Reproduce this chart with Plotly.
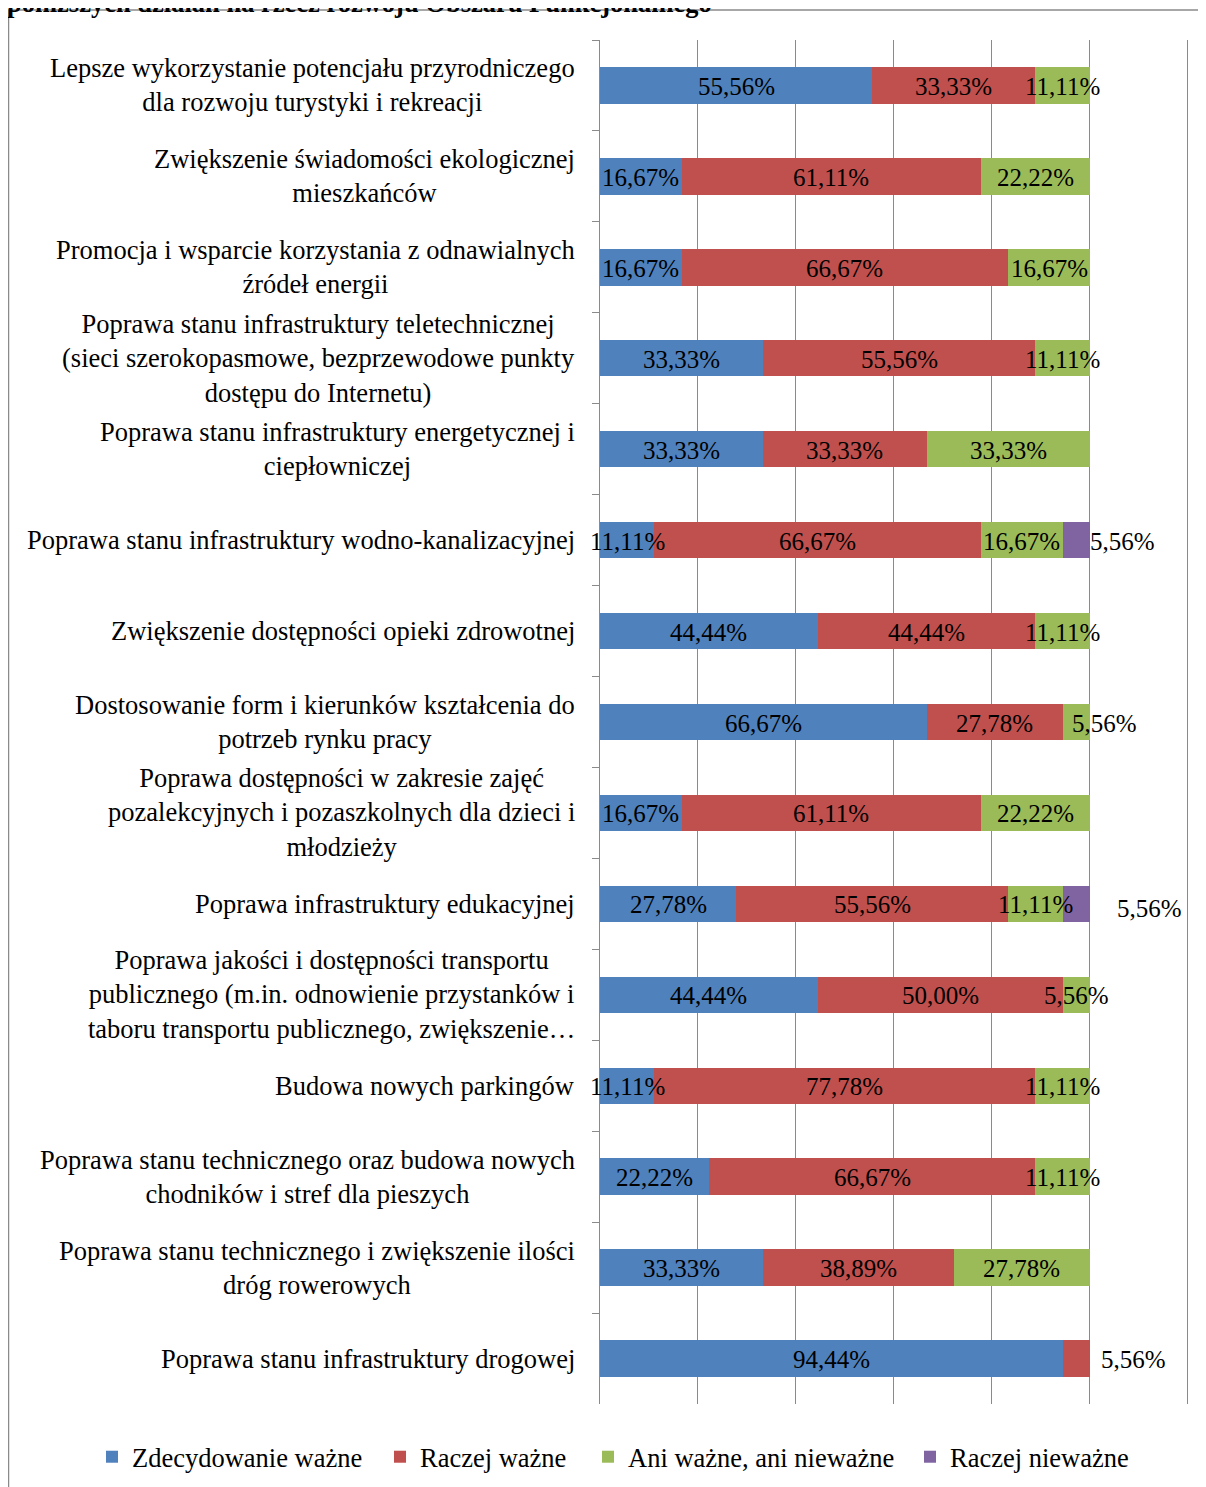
import plotly.graph_objects as go

categories = [
    "Lepsze wykorzystanie potencjału przyrodniczego<br>dla rozwoju turystyki i rekreacji",
    "Zwiększenie świadomości ekologicznej<br>mieszkańców",
    "Promocja i wsparcie korzystania z odnawialnych<br>źródeł energii",
    "Poprawa stanu infrastruktury teletechnicznej<br>(sieci szerokopasmowe, bezprzewodowe punkty<br>dostępu do Internetu)",
    "Poprawa stanu infrastruktury energetycznej i<br>ciepłowniczej",
    "Poprawa stanu infrastruktury wodno-kanalizacyjnej",
    "Zwiększenie dostępności opieki zdrowotnej",
    "Dostosowanie form i kierunków kształcenia do<br>potrzeb rynku pracy",
    "Poprawa dostępności w zakresie zajęć<br>pozalekcyjnych i pozaszkolnych dla dzieci i<br>młodzieży",
    "Poprawa infrastruktury edukacyjnej",
    "Poprawa jakości i dostępności transportu<br>publicznego (m.in. odnowienie przystanków i<br>taboru transportu publicznego, zwiększenie…",
    "Budowa nowych parkingów",
    "Poprawa stanu technicznego oraz budowa nowych<br>chodników i stref dla pieszych",
    "Poprawa stanu technicznego i zwiększenie ilości<br>dróg rowerowych",
    "Poprawa stanu infrastruktury drogowej",
]

series_names = ["Zdecydowanie ważne", "Raczej ważne", "Ani ważne, ani nieważne", "Raczej nieważne"]

zdecydowanie_wazne = [55.56, 16.67, 16.67, 33.33, 33.33, 11.11, 44.44, 66.67, 16.67, 27.78, 44.44, 11.11, 22.22, 33.33, 94.44]
raczej_wazne       = [33.33, 61.11, 66.67, 55.56, 33.33, 66.67, 44.44, 27.78, 61.11, 55.56, 50.00, 77.78, 66.67, 38.89, 5.56]
ani_wazne          = [11.11, 22.22, 16.67, 11.11, 33.33, 16.67, 11.11, 5.56, 22.22, 11.11, 5.56, 11.11, 11.11, 27.78, 0]
raczej_niewazne    = [0, 0, 0, 0, 0, 5.56, 0, 0, 0, 5.56, 0, 0, 0, 0, 0]

series_values = [zdecydowanie_wazne, raczej_wazne, ani_wazne, raczej_niewazne]
colors = ["#4F81BD", "#C0504D", "#9BBB59", "#8064A2"]

FONT = "Liberation Serif, Times New Roman, serif"
TEXT_SIZE = 26.5
LABEL_SIZE = 25

# the page body has an 8px margin, so the figure is drawn 8px in from the window corner
PAGE_OFF = 8
PAGE_W, PAGE_H = 1206, 1487
W, H = PAGE_W - PAGE_OFF, PAGE_H - PAGE_OFF
X_MAX = 1.2025          # a hair past 120% so the last grid line is drawn
PX_PER_UNIT = 490       # window pixels for 100%
# plot area in window pixels: x 600..(600+490*X_MAX), y 40..1404
ML = 600 - PAGE_OFF
MT = 40 - PAGE_OFF
PW = round(PX_PER_UNIT * X_MAX)
MR = W - ML - PW
MB = H - (1404 - PAGE_OFF)
PH = H - MT - MB

# window x of each legend entry's left edge (style)
LEGEND_LEFT_PX = [92, 380, 588, 910]


def px_to_paper_x(px):  # px in window coordinates
    return (px - PAGE_OFF - ML) / PW


def px_to_paper_y(py):
    return 1 - (py - PAGE_OFF - MT) / PH


legend_ids = ["legend"] + [f"legend{k}" for k in range(2, len(series_names) + 1)]

fig = go.Figure()
for name, vals, col, lid in zip(series_names, series_values, colors, legend_ids):
    fig.add_trace(go.Bar(
        y=categories, x=[v / 100 for v in vals], name=name, orientation="h",
        legend=lid,
        marker=dict(color=col, line=dict(width=0)),
        hoverinfo="x+y",
    ))

# label placement styles: labels drawn to the right of the bar end, with pixel shifts
outside_labels = {(5, 3): -2, (9, 3): 25, (14, 1): 9}
center_shifts = {(7, 2): 28}

annotations = []
for i, cat in enumerate(categories):
    cum = 0.0
    for s, vals in enumerate(series_values):
        v = vals[i]
        if v <= 0:
            continue
        txt = f"{v:.2f}".replace(".", ",") + "%"
        if (i, s) in outside_labels:
            annotations.append(dict(
                x=(cum + v) / 100, y=cat, xref="x", yref="y", text=txt, showarrow=False,
                xanchor="left", xshift=outside_labels[(i, s)], yshift=-5 if (i, s) == (9, 3) else -1,
                font=dict(family=FONT, size=LABEL_SIZE, color="#000000")))
        else:
            annotations.append(dict(
                x=(cum + v / 2) / 100, y=cat, xref="x", yref="y", text=txt, showarrow=False,
                xanchor="center", xshift=center_shifts.get((i, s), 0), yshift=-1,
                font=dict(family=FONT, size=LABEL_SIZE, color="#000000")))
        cum += v

# category labels, centered multi-line blocks right-aligned to the axis
for cat in categories:
    annotations.append(dict(
        x=0, y=cat, xref="paper", yref="y", text=cat, showarrow=False,
        xanchor="right", xshift=-23, align="center",
        font=dict(family=FONT, size=TEXT_SIZE, color="#000000")))

# cropped document heading at top
annotations.append(dict(
    x=px_to_paper_x(5), y=px_to_paper_y(3), xref="paper", yref="paper",
    text="<b>poniższych działań na rzecz rozwoju Obszaru Funkcjonalnego</b>",
    showarrow=False, xanchor="left", yanchor="middle",
    font=dict(family=FONT, size=TEXT_SIZE, color="#000000")))

shapes = [
    dict(type="line", xref="paper", yref="paper",
         x0=px_to_paper_x(8), x1=px_to_paper_x(1215), y0=px_to_paper_y(10), y1=px_to_paper_y(10),
         line=dict(color="#8a8a8a", width=1.5)),
    dict(type="line", xref="paper", yref="paper",
         x0=px_to_paper_x(8.5), x1=px_to_paper_x(8.5), y0=px_to_paper_y(10), y1=px_to_paper_y(1495),
         line=dict(color="#8a8a8a", width=1.5)),
]

legend_layouts = {}
for lid, left_px in zip(legend_ids, LEGEND_LEFT_PX):
    legend_layouts[lid] = dict(
        orientation="h", xref="paper", yref="paper",
        x=px_to_paper_x(left_px), xanchor="left",
        y=px_to_paper_y(1457), yanchor="middle",
        font=dict(family=FONT, size=TEXT_SIZE, color="#000000"),
        itemwidth=30, bgcolor="rgba(0,0,0,0)")

fig.update_layout(
    width=W, height=H,
    barmode="stack", bargap=0.6,
    paper_bgcolor="white", plot_bgcolor="white",
    margin=dict(l=ML, r=MR, t=MT, b=MB, pad=0, autoexpand=False),
    font=dict(family=FONT, size=TEXT_SIZE, color="#000000"),
    showlegend=True,
    annotations=annotations,
    shapes=shapes,
    **legend_layouts,
)
fig.update_xaxes(range=[0, X_MAX], dtick=0.2, tick0=0, showgrid=True, gridcolor="#8a8a8a", gridwidth=1.3,
                 showticklabels=False, zeroline=False, showline=False, ticks="")
fig.update_yaxes(autorange="reversed", showticklabels=False, showline=True, linecolor="#8a8a8a", linewidth=1.3,
                 ticks="outside", tickson="boundaries", ticklen=7, tickcolor="#8a8a8a", tickwidth=1.3,
                 showgrid=False, zeroline=False)

fig.write_html("out.html")
